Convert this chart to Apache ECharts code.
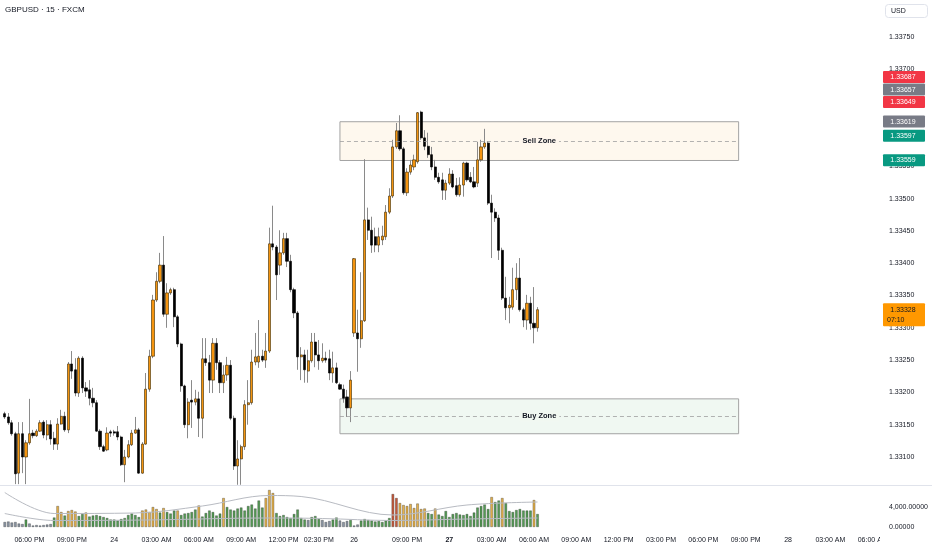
<!DOCTYPE html>
<html>
<head>
<meta charset="utf-8">
<script src="https://cdn.jsdelivr.net/npm/echarts@6/dist/echarts.min.js"></script>
<style>html,body{margin:0;padding:0;background:#fff}#c{width:932px;height:550px}</style>
</head>
<body>
<div id="c"></div>
<script>
// ---------- data ----------
const chartTitle = 'GBPUSD · 15 · FXCM';
const sessions = [
  { day: 23, minute: 16 * 60 + 15, bars: 99 },
  { day: 26, minute: 17 * 60 + 15, bars: 149 }
];
const tickLabels = [
  ['23 18:00', '06:00 PM'], ['23 21:00', '09:00 PM'], ['24 00:00', '24'], ['24 03:00', '03:00 AM'],
  ['24 06:00', '06:00 AM'], ['24 09:00', '09:00 AM'], ['24 12:00', '12:00 PM'], ['24 14:30', '02:30 PM'],
  ['26 17:15', '26'], ['26 21:00', '09:00 PM'], ['27 00:00', '27'], ['27 03:00', '03:00 AM'],
  ['27 06:00', '06:00 AM'], ['27 09:00', '09:00 AM'], ['27 12:00', '12:00 PM'], ['27 15:00', '03:00 PM'],
  ['27 18:00', '06:00 PM'], ['27 21:00', '09:00 PM'], ['28 00:00', '28'], ['28 03:00', '03:00 AM'],
  ['28 06:00', '06:00 AM']
];
const opens = [
  1.33167,1.33162,1.33153,1.33136,1.33075,1.33136,1.33100,1.33122,1.33137,1.33133,
  1.33140,1.33154,1.33134,1.33150,1.33129,1.33120,1.33151,1.33163,1.33142,1.33244,
  1.33235,1.33199,1.33253,1.33207,1.33204,1.33191,1.33184,1.33140,1.33116,1.33111,
  1.33139,1.33139,1.33139,1.33131,1.33088,1.33100,1.33119,1.33137,1.33142,1.33075,
  1.33120,1.33205,1.33256,1.33343,1.33372,1.33397,1.33321,1.33354,1.33359,1.33317,
  1.33275,1.33210,1.33150,1.33188,1.33185,1.33190,1.33160,1.33252,1.33246,1.33219,
  1.33276,1.33246,1.33215,1.33227,1.33242,1.33160,1.33086,1.33097,1.33116,1.33181,
  1.33184,1.33247,1.33247,1.33256,1.33250,1.33264,1.33430,1.33425,1.33397,1.33416,
  1.33438,1.33403,1.33359,1.33323,1.33255,1.33258,1.33233,1.33249,1.33278,1.33258,
  1.33249,1.33253,1.33252,1.33230,1.33238,1.33212,1.33205,1.33193,1.33176,1.33292,
  1.33292,1.33283,1.33311,1.33467,1.33451,1.33441,1.33428,1.33436,1.33441,1.33479,
  1.33504,1.33580,1.33605,1.33577,1.33509,1.33541,1.33549,1.33557,1.33634,1.33594,
  1.33581,1.33568,1.33549,1.33533,1.33529,1.33513,1.33524,1.33538,1.33520,1.33506,
  1.33521,1.33555,1.33533,1.33526,1.33524,1.33560,1.33580,1.33586,1.33493,1.33479,
  1.33470,1.33420,1.33346,1.33331,1.33332,1.33359,1.33377,1.33328,1.33312,1.33338,
  1.33307,1.33300
];
const closes = [
  1.33162,1.33153,1.33136,1.33074,1.33136,1.33100,1.33122,1.33136,1.33133,1.33140,
  1.33153,1.33134,1.33150,1.33128,1.33120,1.33151,1.33163,1.33142,1.33244,1.33233,
  1.33199,1.33253,1.33207,1.33202,1.33191,1.33184,1.33140,1.33116,1.33109,1.33137,
  1.33137,1.33137,1.33131,1.33088,1.33100,1.33119,1.33137,1.33142,1.33075,1.33120,
  1.33205,1.33256,1.33343,1.33372,1.33397,1.33321,1.33354,1.33359,1.33317,1.33275,
  1.33210,1.33150,1.33185,1.33185,1.33190,1.33160,1.33252,1.33246,1.33219,1.33276,
  1.33246,1.33215,1.33227,1.33242,1.33160,1.33086,1.33097,1.33116,1.33181,1.33184,
  1.33247,1.33255,1.33256,1.33250,1.33264,1.33430,1.33425,1.33382,1.33416,1.33438,
  1.33403,1.33359,1.33323,1.33255,1.33258,1.33235,1.33249,1.33278,1.33258,1.33249,
  1.33253,1.33250,1.33230,1.33238,1.33215,1.33205,1.33191,1.33176,1.33219,1.33407,
  1.33283,1.33311,1.33467,1.33451,1.33428,1.33428,1.33441,1.33442,1.33479,1.33504,
  1.33580,1.33605,1.33577,1.33509,1.33541,1.33552,1.33560,1.33633,1.33594,1.33581,
  1.33568,1.33549,1.33533,1.33526,1.33513,1.33524,1.33538,1.33518,1.33506,1.33521,
  1.33555,1.33529,1.33526,1.33518,1.33560,1.33580,1.33586,1.33493,1.33479,1.33470,
  1.33420,1.33346,1.33331,1.33335,1.33359,1.33377,1.33328,1.33312,1.33338,1.33307,
  1.33300,1.33328
];
const lows = [
  1.33159,1.33150,1.33133,1.33058,1.33058,1.33075,1.33058,1.33119,1.33129,1.33131,
  1.33139,1.33129,1.33126,1.33119,1.33111,1.33111,1.33150,1.33139,1.33137,1.33221,
  1.33194,1.33193,1.33199,1.33193,1.33180,1.33177,1.33139,1.33111,1.33108,1.33109,
  1.33131,1.33133,1.33126,1.33086,1.33061,1.33098,1.33117,1.33136,1.33074,1.33074,
  1.33119,1.33201,1.33253,1.33340,1.33369,1.33317,1.33300,1.33351,1.33301,1.33270,
  1.33201,1.33145,1.33129,1.33145,1.33180,1.33131,1.33129,1.33241,1.33199,1.33199,
  1.33235,1.33199,1.33199,1.33218,1.33157,1.33080,1.33057,1.33057,1.33111,1.33150,
  1.33181,1.33242,1.33238,1.33247,1.33238,1.33261,1.33420,1.33343,1.33382,1.33413,
  1.33394,1.33355,1.33315,1.33235,1.33219,1.33215,1.33215,1.33246,1.33239,1.33235,
  1.33246,1.33246,1.33219,1.33215,1.33213,1.33204,1.33184,1.33162,1.33154,1.33286,
  1.33232,1.33269,1.33309,1.33436,1.33416,1.33417,1.33417,1.33428,1.33436,1.33476,
  1.33501,1.33577,1.33574,1.33506,1.33504,1.33537,1.33544,1.33554,1.33591,1.33575,
  1.33563,1.33544,1.33529,1.33523,1.33498,1.33498,1.33521,1.33516,1.33503,1.33503,
  1.33503,1.33526,1.33524,1.33516,1.33518,1.33557,1.33577,1.33490,1.33408,1.33464,
  1.33405,1.33343,1.33312,1.33307,1.33328,1.33343,1.33325,1.33301,1.33297,1.33297,
  1.33276,1.33294
];
const highs = [
  1.33170,1.33168,1.33157,1.33139,1.33154,1.33154,1.33126,1.33190,1.33142,1.33143,
  1.33157,1.33157,1.33157,1.33157,1.33139,1.33160,1.33173,1.33170,1.33247,1.33264,
  1.33253,1.33256,1.33256,1.33216,1.33219,1.33207,1.33188,1.33143,1.33119,1.33146,
  1.33142,1.33142,1.33148,1.33133,1.33111,1.33126,1.33142,1.33162,1.33145,1.33123,
  1.33230,1.33266,1.33351,1.33386,1.33416,1.33442,1.33369,1.33362,1.33362,1.33320,
  1.33277,1.33212,1.33191,1.33219,1.33204,1.33201,1.33284,1.33284,1.33258,1.33284,
  1.33284,1.33250,1.33242,1.33255,1.33250,1.33164,1.33126,1.33119,1.33188,1.33219,
  1.33266,1.33292,1.33312,1.33266,1.33292,1.33455,1.33489,1.33428,1.33451,1.33447,
  1.33447,1.33413,1.33362,1.33326,1.33270,1.33266,1.33266,1.33292,1.33292,1.33281,
  1.33276,1.33263,1.33266,1.33263,1.33246,1.33215,1.33212,1.33204,1.33233,1.33408,
  1.33328,1.33386,1.33561,1.33486,1.33472,1.33455,1.33455,1.33458,1.33490,1.33516,
  1.33591,1.33617,1.33629,1.33580,1.33547,1.33560,1.33568,1.33634,1.33636,1.33606,
  1.33602,1.33580,1.33560,1.33540,1.33540,1.33529,1.33547,1.33544,1.33532,1.33533,
  1.33557,1.33557,1.33541,1.33549,1.33588,1.33591,1.33608,1.33589,1.33506,1.33485,
  1.33475,1.33424,1.33379,1.33348,1.33393,1.33400,1.33408,1.33331,1.33351,1.33348,
  1.33363,1.33332
];
const volumes = [
  1000,1100,900,1000,700,600,1500,700,300,400,
  300,400,500,600,1900,4200,3000,2300,3200,3400,
  3100,2200,2600,2900,2100,2300,2400,2200,2000,1800,
  1500,1500,1300,1600,1800,2400,2700,2400,2000,3300,
  3500,3000,4000,3600,2900,3800,3000,2700,3300,3300,
  2400,2700,2800,3000,3500,4300,2100,2800,3300,3000,
  2300,2700,5800,4000,3500,3300,3700,3900,3300,4200,
  4500,3700,5300,3900,5800,7400,6800,2800,2200,2400,
  2000,1800,2600,3500,1800,1500,1400,2000,2200,1600,
  1400,1000,1200,1500,1900,1300,1000,1200,1400,300,
  500,1300,1600,1400,1300,1100,1200,1000,1300,1800,
  6600,5800,4800,4400,4200,4600,3800,4700,3600,3700,
  2800,2600,3700,2500,2200,3200,2000,2600,2800,2500,
  2400,2600,2200,2900,3900,4200,4500,3600,6000,5000,
  5300,5800,4800,3200,3000,3400,3600,3300,3300,3300,
  5400,2600
];
// relative-volume class of each bar: L low, N normal, H high, X extreme
const volumeClass = [...(
  'LLLLLL' + 'N' + 'LLLLLLL' + 'N' + 'HHNHHHNNH' + 'NNNNNNNNNNNNNNN' + 'HHHHH' + 'NHNNNH' +
  'NNNNN' + 'H' + 'NNNNNN' + 'H' + 'NNNNNNNNNNN' + 'HHH' + 'NNNNNNNNN' + 'L' + 'NNN' + 'LLL' +
  'NN' + 'LLL' + 'N' + 'LL' + 'NNNNNNNNN' + 'XX' + 'HHHHHHHH' + 'NN' + 'H' + 'NNNNNNNNNNNNNNN' +
  'H' + 'NN' + 'H' + 'NNNNNNNN' + 'H' + 'N')];
// volume average bands: [bar index, volume]
const volumeUpperBand = [[0, 6900], [14, 2700], [37, 2800], [56, 4200], [75, 6300], [84, 6100], [110, 2400], [131, 4400], [151, 5000]];
const volumeLowerBand = [[0, 2700], [14, 1300], [40, 1400], [75, 1800], [90, 1700], [110, 1300], [131, 1600], [151, 1800]];

const zoneNames = ['Sell Zone', 'Buy Zone'];
const zoneTops = [1.33619, 1.33190];
const zoneBottoms = [1.33559, 1.33136];
const zoneStarts = ['24 16:00', '24 16:00'];
const zoneEnds = ['27 20:30', '27 20:30'];

const levelPrices = [1.33687, 1.33657, 1.33649, 1.33619, 1.33597, 1.33559];
const levelKinds = ['loss', 'mark', 'loss', 'mark', 'gain', 'gain'];
const countdown = '07:10';

// ---------- build ----------
function buildCategories() {
  const out = [];
  sessions.forEach(s => {
    let d = s.day, m = s.minute;
    for (let k = 0; k < s.bars; k++) {
      out.push(d + ' ' + String(Math.floor(m / 60)).padStart(2, '0') + ':' + String(m % 60).padStart(2, '0'));
      m += 15;
      if (m >= 1440) { m -= 1440; d += 1; }
    }
  });
  return out;
}
const categories = buildCategories();
const tickMap = new Map(tickLabels);
const candleData = opens.map((o, i) => [o, closes[i], lows[i], highs[i]]);
const bodyData = opens.map((o, i) => [o, closes[i], Math.min(o, closes[i]), Math.max(o, closes[i])]);
const lastClose = closes[closes.length - 1];

const FONT = '"Liberation Sans", Arial, sans-serif';
const TXT = '#131722';
const UP = '#f5940f';
const DOWN = '#000000';
const classColor = { L: '#8a95a3', N: '#559c55', H: '#e3b04b', X: '#c65a3c' };
const kindColor = { loss: '#f23645', mark: '#787b86', gain: '#089981' };
const zoneFill = ['rgba(245,160,40,0.08)', 'rgba(70,170,90,0.08)'];
const zoneLabelBg = ['#fef7ee', '#f1f8f1'];

const chart = echarts.init(document.getElementById('c'), null, { renderer: 'canvas' });

const option = {
  animation: false,
  backgroundColor: '#ffffff',
  textStyle: { fontFamily: FONT },
  title: {
    text: chartTitle, left: 5, top: 6, padding: 0,
    textStyle: { fontSize: 8, fontWeight: 'normal', color: TXT, fontFamily: FONT }
  },
  grid: [
    { left: 3, right: 54, top: 4.8, height: 484.5, outerBoundsMode: 'none' },
    { left: 3, right: 54, top: 487, height: 40, outerBoundsMode: 'none' }
  ],
  xAxis: [
    {
      type: 'category', gridIndex: 0, data: categories, boundaryGap: true,
      axisLine: { show: false }, axisTick: { show: false }, axisLabel: { show: false }, splitLine: { show: false }
    },
    {
      type: 'category', gridIndex: 1, data: categories, boundaryGap: true,
      axisLine: { show: false }, axisTick: { show: false }, splitLine: { show: false },
      axisLabel: {
        interval: (i, v) => tickMap.has(v),
        formatter: v => {
          const t = tickMap.get(v) || '';
          return t === '27' ? '{b|27}' : t;
        },
        fontSize: 7, color: TXT, margin: 10, fontFamily: FONT,
        rich: { b: { fontWeight: 'bold', fontSize: 7, color: TXT, fontFamily: FONT } }
      }
    }
  ],
  yAxis: [
    {
      type: 'value', gridIndex: 0, position: 'right', min: 1.3305, max: 1.338, interval: 0.0005,
      axisLine: { show: false }, axisTick: { show: false }, splitLine: { show: false },
      axisLabel: {
        fontSize: 7, color: TXT, margin: 11, fontFamily: FONT,
        showMinLabel: false, showMaxLabel: false,
        formatter: v => v.toFixed(5)
      }
    },
    {
      type: 'value', gridIndex: 1, position: 'right', min: 0, max: 8000, interval: 4000,
      axisLine: { show: false }, axisTick: { show: false }, splitLine: { show: false },
      axisLabel: {
        fontSize: 7, color: TXT, margin: 11, fontFamily: FONT, showMaxLabel: false,
        formatter: v => v.toLocaleString('en-US', { minimumFractionDigits: 5, maximumFractionDigits: 5 })
      }
    }
  ],
  series: [
    {
      name: 'wicks', type: 'candlestick', xAxisIndex: 0, yAxisIndex: 0, data: candleData,
      barWidth: 1,
      itemStyle: { color: '#8a8a8a', color0: '#8a8a8a', borderColor: '#8a8a8a', borderColor0: '#8a8a8a', borderWidth: 1 },
      silent: true,
      markArea: {
        silent: true,
        data: zoneNames.map((n, k) => [
          { xAxis: zoneStarts[k], yAxis: zoneTops[k],
            itemStyle: { color: zoneFill[k], borderColor: '#a3a3a3', borderWidth: 1 } },
          { xAxis: zoneEnds[k], yAxis: zoneBottoms[k] }
        ])
      },
      markLine: {
        silent: true, symbol: ['none', 'none'], label: { show: false },
        data: [
          { yAxis: lastClose, lineStyle: { color: '#ff9800', type: 'dotted', width: 1 } },
          ...zoneNames.map((n, k) => [
            { coord: [zoneStarts[k], (zoneTops[k] + zoneBottoms[k]) / 2],
              lineStyle: { color: '#a0a0a0', type: [4, 3], width: 0.8 } },
            { coord: [zoneEnds[k], (zoneTops[k] + zoneBottoms[k]) / 2] }
          ])
        ]
      }
    },
    {
      name: 'bodies', type: 'candlestick', xAxisIndex: 0, yAxisIndex: 0, data: bodyData,
      barWidth: '76%', silent: true,
      itemStyle: { color: UP, color0: DOWN, borderColor: '#3a2800', borderColor0: '#000000', borderWidth: 0.6 }
    },
    {
      name: 'volume', type: 'bar', xAxisIndex: 1, yAxisIndex: 1, data: volumes,
      barWidth: '74%', silent: true,
      itemStyle: {
        color: p => classColor[volumeClass[p.dataIndex]],
        borderColor: 'rgba(30,30,30,0.6)', borderWidth: 0.5
      }
    },
    {
      name: 'volUpper', type: 'line', xAxisIndex: 1, yAxisIndex: 1, data: volumeUpperBand,
      smooth: 0.35, symbol: 'none', silent: true, z: 4,
      lineStyle: { color: '#b8bbc2', width: 1 }
    },
    {
      name: 'volLower', type: 'line', xAxisIndex: 1, yAxisIndex: 1, data: volumeLowerBand,
      smooth: 0.35, symbol: 'none', silent: true, z: 4,
      lineStyle: { color: '#b8bbc2', width: 1 }
    }
  ]
};
chart.setOption(option);

// ---------- overlays positioned through the axes ----------
const yPix = p => chart.convertToPixel({ yAxisIndex: 0 }, p);
const xPix = c => chart.convertToPixel({ xAxisIndex: 0 }, c);
const graphics = [];
const BX = 883, BW = 42, BH = 12.5;

// level badges, stacked upward when they collide
const badges = levelPrices.map((p, i) => ({ p, y: yPix(p), kind: levelKinds[i] }));
badges.sort((a, b) => b.y - a.y);
const curY = yPix(lastClose);
let limit = curY - 6.5;
badges.forEach(b => {
  if (b.y > limit - BH / 2) b.y = limit - BH / 2;
  limit = b.y - BH / 2;
});
badges.forEach(b => {
  graphics.push({
    type: 'rect', z: 100, shape: { x: BX, y: b.y - BH / 2, width: BW, height: BH - 0.5, r: 1 },
    style: { fill: kindColor[b.kind] }
  });
  graphics.push({
    type: 'text', z: 101,
    style: { text: b.p.toFixed(5), x: BX + BW / 2 - 1, y: b.y, align: 'center', verticalAlign: 'middle',
      fill: '#ffffff', font: '7px ' + FONT }
  });
});
// current price badge with countdown
graphics.push({
  type: 'rect', z: 100, shape: { x: BX, y: curY - 6.5, width: BW, height: 23, r: 1 },
  style: { fill: '#ff9800' }
});
graphics.push({
  type: 'text', z: 101,
  style: { text: lastClose.toFixed(5), x: BX + BW / 2 - 1, y: curY, align: 'center', verticalAlign: 'middle',
    fill: TXT, font: '7px ' + FONT }
});
graphics.push({
  type: 'text', z: 101,
  style: { text: countdown, x: BX + 4, y: curY + 10.5, align: 'left', verticalAlign: 'middle',
    fill: TXT, font: '7px ' + FONT }
});
// zone labels
zoneNames.forEach((n, k) => {
  const cx = (xPix(zoneStarts[k]) + xPix(zoneEnds[k])) / 2;
  const cy = yPix((zoneTops[k] + zoneBottoms[k]) / 2);
  graphics.push({
    type: 'text', z: 100,
    style: { text: n, x: cx, y: cy, align: 'center', verticalAlign: 'middle', fill: TXT,
      font: 'bold 7.5px ' + FONT, backgroundColor: zoneLabelBg[k], padding: [1, 3] }
  });
});
// pane separator, currency button, clip of the time scale under the price scale
graphics.push({ type: 'line', z: 100, shape: { x1: 0, y1: 485.5, x2: 932, y2: 485.5 }, style: { stroke: '#e0e3eb', lineWidth: 1 } });
graphics.push({ type: 'rect', z: 100, shape: { x: 880, y: 533, width: 52, height: 17 }, style: { fill: '#ffffff' } });
graphics.push({ type: 'rect', z: 100, shape: { x: 885.5, y: 4.5, width: 42, height: 13, r: 3 }, style: { fill: '#ffffff', stroke: '#e0e3eb', lineWidth: 1 } });
graphics.push({ type: 'text', z: 101, style: { text: 'USD', x: 891, y: 11, align: 'left', verticalAlign: 'middle', fill: TXT, font: '7px ' + FONT } });

chart.setOption({ graphic: graphics });
</script>
</body>
</html>
